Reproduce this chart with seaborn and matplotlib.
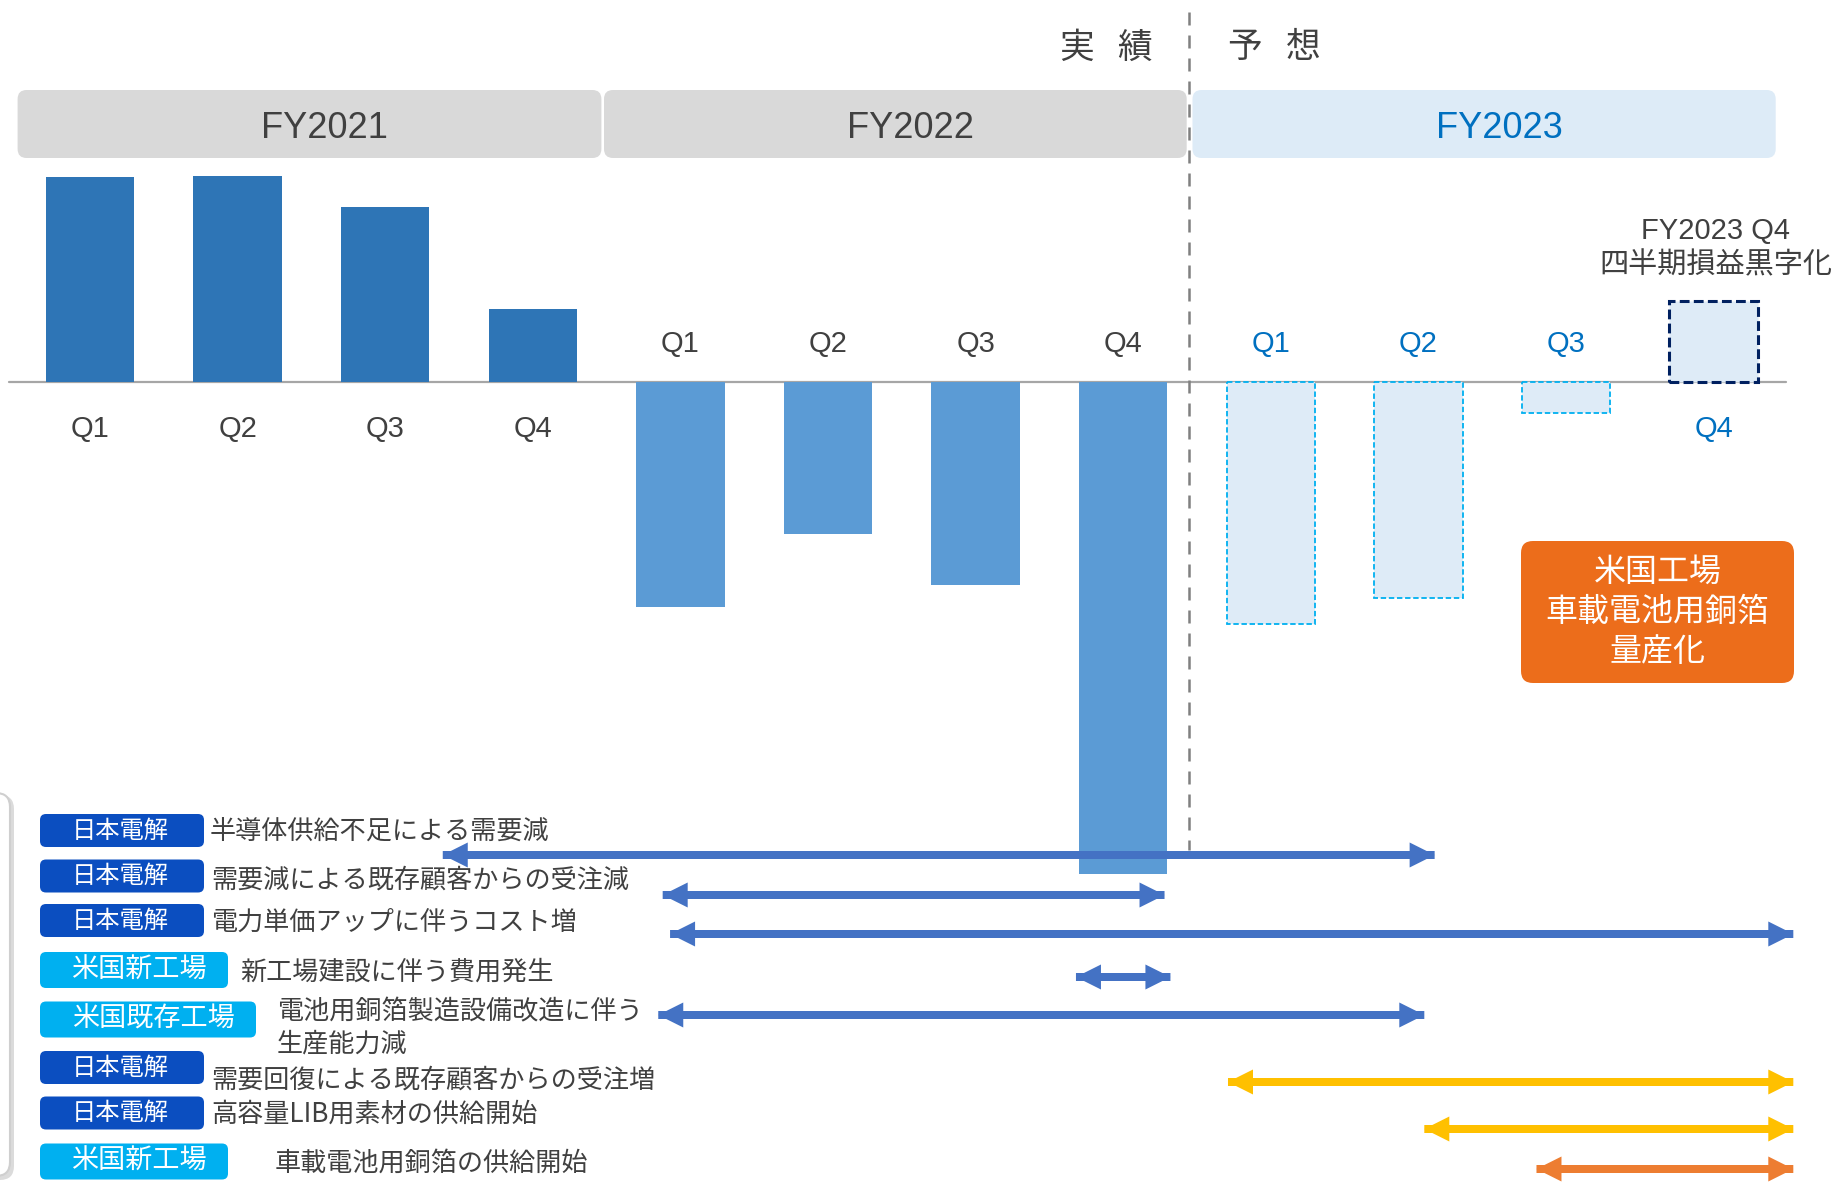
import numpy as np
import pandas as pd
import matplotlib
matplotlib.use("Agg")
import matplotlib.pyplot as plt
import seaborn as sns
from matplotlib.patches import FancyBboxPatch, FancyArrowPatch
from matplotlib.transforms import blended_transform_factory

# ---------------- data ----------------
fiscal_years = ["FY2021", "FY2022", "FY2023"]
quarters = ["Q1", "Q2", "Q3", "Q4"]
fy2021_values = [20.5, 20.6, 17.5, 7.3]
fy2022_values = [-22.5, -15.2, -20.3, -49.2]
fy2023_values = [-24.2, -21.6, -3.1, 8.1]   # forecast
phase_labels = ["実   績", "予   想"]
note_lines = ["FY2023 Q4", "四半期損益黒字化"]
callout_text = "米国工場\n車載電池用銅箔\n量産化"

factor_tags = ["日本電解", "日本電解", "日本電解", "米国新工場", "米国既存工場",
               "日本電解", "日本電解", "米国新工場"]
factor_texts = ["半導体供給不足による需要減",
                "需要減による既存顧客からの受注減",
                "電力単価アップに伴うコスト増",
                "新工場建設に伴う費用発生",
                "電池用銅箔製造設備改造に伴う\n生産能力減",
                "需要回復による既存顧客からの受注増",
                "高容量LIB用素材の供給開始",
                "車載電池用銅箔の供給開始"]
# span of each factor on the quarter axis (0 = FY2021 Q1 ... 11 = FY2023 Q4)
factor_start = [2.39, 3.88, 3.93, 6.68, 3.85, 7.71, 9.04, 9.80]
factor_end = [9.11, 7.28, 11.54, 7.32, 9.04, 11.54, 11.54, 11.54]
factor_kind = ["neg", "neg", "neg", "neg", "neg", "pos", "pos", "us"]

# ---------------- style ----------------
sns.set_style("white")
LAT = ["Liberation Sans", "Noto Sans CJK JP", "DejaVu Sans"]
JP = ["Noto Sans CJK JP", "Liberation Sans", "DejaVu Sans"]
plt.rcParams["font.family"] = LAT

GRAY_TXT = "#404040"
BLUE_TXT = "#0070C0"
bar_palette = {"FY2021": "#2E75B6", "FY2022": "#5B9BD5", "FY2023": "#DEEBF7"}
arrow_colors = {"neg": "#4472C4", "pos": "#FFC000", "us": "#ED7D31"}
tag_colors = {"日本電解": "#0B4EC0", "米国新工場": "#00B0F0", "米国既存工場": "#00B0F0"}

W, H = 1839, 1182
fig = plt.figure(figsize=(W / 100, H / 100), dpi=100)
ax = fig.add_axes([0, 0, 1, 1])
ov = fig.add_axes([0, 0, 1, 1])
ov.set_zorder(3)
ov.set_xlim(0, W)
ov.set_ylim(H, 0)
ov.axis("off")
ov.patch.set_alpha(0)

# ---------------- bars ----------------
slots = [f"{fy} {q}" for fy in fiscal_years for q in quarters]
values = fy2021_values + fy2022_values + fy2023_values
df = pd.DataFrame({"slot": slots, "value": values,
                   "fy": np.repeat(fiscal_years, len(quarters))})
sns.barplot(data=df, x="slot", y="value", hue="fy", order=slots,
            hue_order=fiscal_years, palette=bar_palette, dodge=False,
            width=0.6, saturation=1, errorbar=None, legend=False,
            linewidth=0, ax=ax)

X0 = -90 / 147.6
X1 = (W - 90) / 147.6
ax.set_xlim(X0, X1)
ax.set_ylim((382.5 - H) / 10, 382.5 / 10)
ax.axis("off")

for p in ax.patches:
    idx = int(round(p.get_x() + p.get_width() / 2))
    if idx >= 8:
        p.set_facecolor("#DEEBF7")
        p.set_zorder(1.5)
        if idx == 11:
            p.set_edgecolor("#002060")
            p.set_linewidth(2.2)
            p.set_linestyle((0, (3.2, 1.4)))
        else:
            p.set_edgecolor("#00B0F0")
            p.set_linewidth(1.3)
            p.set_linestyle((0, (3.0, 1.5)))

ax.axhline(0, xmin=9 / W, xmax=1786 / W, color="#A6A6A6", lw=1.6, zorder=0.5)

blend = blended_transform_factory(ax.transData, ov.transData)

# quarter labels
for i, (s, v) in enumerate(zip(slots, values)):
    q = s.split()[1]
    col = BLUE_TXT if i >= 8 else GRAY_TXT
    y = 344 if v < 0 else 429
    ov.text(i, y, q, transform=blend, ha="center", va="center",
            fontsize=21, color=col, family=LAT)

# ---------------- headers ----------------
header_boxes = [(17.6, 601.4), (604.0, 1186.7), (1192.5, 1775.7)]
header_fc = ["#D9D9D9", "#D9D9D9", "#DDEBF7"]
header_tc = [GRAY_TXT, GRAY_TXT, BLUE_TXT]
for (x0, x1), fc, tc, fy in zip(header_boxes, header_fc, header_tc, fiscal_years):
    ov.add_patch(FancyBboxPatch((x0, 90), x1 - x0, 68,
                                boxstyle="round,pad=0,rounding_size=9",
                                fc=fc, ec="none", zorder=1))
    ov.text((x0 + x1) / 2 + 15, 128, fy, ha="center", va="center",
            fontsize=26, color=tc, family=LAT, zorder=2)

ov.text(1106, 48, phase_labels[0], ha="center", va="center", fontsize=25,
        color=GRAY_TXT, family=JP)
ov.text(1274, 48, phase_labels[1], ha="center", va="center", fontsize=25,
        color=GRAY_TXT, family=JP)

# actual / forecast divider
ov.plot([1189, 1189], [12, 850], color="#808080", lw=1.8,
        linestyle=(0, (5.2, 4.0)), zorder=1)

# FY2023 Q4 note
ov.text(1716, 231, note_lines[0], ha="center", va="center", fontsize=21,
        color=GRAY_TXT, family=LAT)
ov.text(1716, 265, note_lines[1], ha="center", va="center", fontsize=21,
        color=GRAY_TXT, family=JP)

# orange callout
ov.add_patch(FancyBboxPatch((1521, 541), 273, 142,
                            boxstyle="round,pad=0,rounding_size=12",
                            fc="#EC6D1B", ec="none", zorder=2))
ov.text(1657.5, 612, callout_text, ha="center", va="center", fontsize=23,
        color="white", family=JP, linespacing=1.32, zorder=3)

# ---------------- factor rows ----------------
# partial side panel at the left edge
ov.add_patch(FancyBboxPatch((-60, 795), 74, 385,
                            boxstyle="round,pad=0,rounding_size=14",
                            fc="#9A9A9A", ec="none", alpha=0.35, zorder=0.5))
ov.add_patch(FancyBboxPatch((-62, 793), 72, 383,
                            boxstyle="round,pad=0,rounding_size=14",
                            fc="white", ec="#CFCFCF", lw=1.5, zorder=0.6))

tag_rows = [830.5, 876, 920.5, 970, 1019.5, 1067.5, 1113, 1161.5]
# width, height, font size, text offset from box centre
tag_size = {"日本電解": (164, 33, 17.5, -2), "米国新工場": (188, 36, 19.5, 5),
            "米国既存工場": (216, 36, 19.5, 5)}
text_x = [210, 211, 211, 240, 277, 211, 211, 275]
text_y = [832, 880, 922, 972, 1028, 1080, 1114, 1163]
arrow_y = [855, 895, 934, 977, 1015, 1082, 1129, 1169]

for k, tag in enumerate(factor_tags):
    w, h, fs, dx = tag_size[tag]
    yc = tag_rows[k]
    ov.add_patch(FancyBboxPatch((40, yc - h / 2), w, h,
                                boxstyle="round,pad=0,rounding_size=6",
                                fc=tag_colors[tag], ec="none", zorder=1))
    ov.text(40 + w / 2 + dx, yc, tag, ha="center", va="center", fontsize=fs,
            color="white", family=JP, zorder=2)
    ov.text(text_x[k], text_y[k], factor_texts[k], ha="left", va="center",
            fontsize=18.8, color=GRAY_TXT, family=JP, linespacing=1.25, zorder=2)

    # double-headed arrow spanning the affected quarters
    a, b = factor_start[k], factor_end[k]
    col = arrow_colors[factor_kind[k]]
    for s_, e_ in ((a, b), (b, a)):
        ov.add_patch(FancyArrowPatch(
            (s_, arrow_y[k]), (e_, arrow_y[k]), transform=blend,
            arrowstyle="simple,head_length=1,head_width=1,tail_width=0.32",
            mutation_scale=18, shrinkA=0, shrinkB=0, color=col, lw=0,
            zorder=4))

fig.savefig("out.png", dpi=100)
